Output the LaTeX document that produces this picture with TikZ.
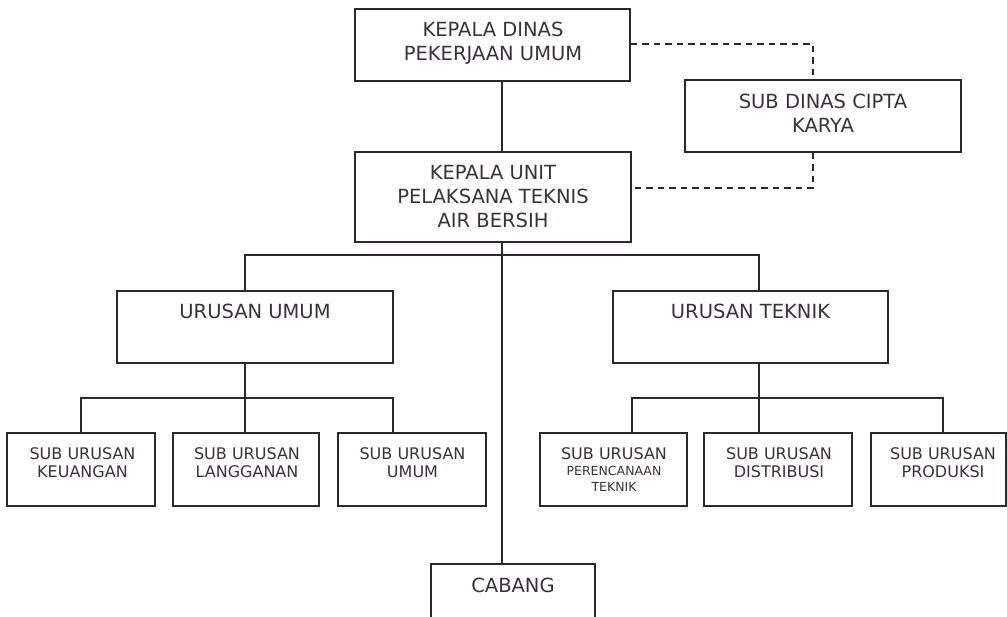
\documentclass[tikz,border=0pt]{standalone}
\usepackage{fontspec}
\setmainfont{DejaVu Sans}
\usetikzlibrary{calc}

\definecolor{ink}{RGB}{45,40,45}
\definecolor{txtc}{RGB}{58,50,58}
\newcommand\smallline{\fontsize{12.5}{16}\selectfont}

\tikzset{
  box/.style={draw=ink, line width=1.3pt, inner sep=0pt, fill=white},
  bigtxt/.style={text=txtc, font=\fontsize{19.5}{24}\selectfont, align=center, inner sep=0pt},
  subtxt/.style={text=txtc, font=\fontsize{16}{18.3}\selectfont, align=center, inner sep=0pt},
  link/.style={draw=ink, line width=1.3pt},
  dashlink/.style={draw=ink, line width=1.2pt, dash pattern=on 6.5pt off 5pt},
}

\begin{document}
\begin{tikzpicture}[x=1pt,y=-1pt]
\fill[white] (0,0) rectangle (1007,616);
\useasboundingbox (0,0) rectangle (1007,616);

% top levels
\node[box, minimum width=275pt, minimum height=72pt] (kd) at (492.5,45) {};
\node[bigtxt] (kdt) at (493,43) {KEPALA DINAS\\PEKERJAAN UMUM};

\node[box, minimum width=276pt, minimum height=72pt] (sd) at (823,116) {};
\node[bigtxt] (sdt) at (823,113) {SUB DINAS CIPTA\\KARYA};

\node[box, minimum width=276pt, minimum height=90pt] (ku) at (493,197) {};
\node[bigtxt] (kut) at (493,197) {KEPALA UNIT\\PELAKSANA TEKNIS\\AIR BERSIH};

% departments
\node[box, minimum width=276pt, minimum height=72pt] (uu) at (255,327) {};
\node[bigtxt] (uut) at (255,311) {URUSAN UMUM};

\node[box, minimum width=275pt, minimum height=72pt] (ut) at (750.5,327) {};
\node[bigtxt] (utt) at (750.5,311) {URUSAN TEKNIK};

% sections
\node[box, minimum width=148pt, minimum height=73pt] (keu) at (81,469.5) {};
\node[subtxt] (keut) at (82.5,463) {SUB URUSAN\\KEUANGAN};

\node[box, minimum width=146pt, minimum height=73pt] (lang) at (246,469.5) {};
\node[subtxt] (langt) at (247,463) {SUB URUSAN\\LANGGANAN};

\node[box, minimum width=148pt, minimum height=73pt] (umum) at (412,469.5) {};
\node[subtxt] (umumt) at (412.5,463) {SUB URUSAN\\UMUM};

\node[box, minimum width=147pt, minimum height=73pt] (per) at (613.5,469.5) {};
\node[subtxt] (pert) at (614,469.5) {SUB URUSAN\\[-2pt]\smallline PERENCANAAN\\[-2pt]\smallline TEKNIK};

\node[box, minimum width=148pt, minimum height=73pt] (dist) at (778,469.5) {};
\node[subtxt] (distt) at (779,463) {SUB URUSAN\\DISTRIBUSI};

\node[box, minimum width=135pt, minimum height=73pt] (prod) at (938.5,469.5) {};
\node[subtxt] (prodt) at (943,463) {SUB URUSAN\\PRODUKSI};

% branch
\node[box, minimum width=164pt, minimum height=76pt] (cab) at (513,602) {};
\node[bigtxt] (cabt) at (513,585) {CABANG};

% solid connectors
\coordinate (trunk) at (502,0);
\draw[link] (kd.south -| trunk) -- (ku.north -| trunk);
\draw[link] (ku.south -| trunk) -- (cab.north -| trunk);

\coordinate (busL) at (245,255);
\coordinate (busR) at (759,255);
\draw[link] (uu.north -| busL) -- (busL) -- (busR) -- (ut.north -| busR);

\coordinate (lb1) at (81,398);
\coordinate (lbus) at (245,398);
\coordinate (lb3) at (393,398);
\draw[link] (uu.south -| lbus) -- (lang.north -| lbus);
\draw[link] (keu.north -| lb1) -- (lb1) -- (lb3) -- (umum.north -| lb3);

\coordinate (rb1) at (632,398);
\coordinate (rbus) at (759,398);
\coordinate (rb3) at (943,398);
\draw[link] (ut.south -| rbus) -- (dist.north -| rbus);
\draw[link] (per.north -| rb1) -- (rb1) -- (rb3) -- (prod.north -| rb3);

% dashed coordination lines
\coordinate (dk) at (813,44);
\coordinate (du) at (813,188);
\draw[dashlink] (dk -| kd.east) -- (dk) -- (sd.north -| dk);
\draw[dashlink] (sd.south -| du) -- (du) -- (du -| ku.east);
\end{tikzpicture}
\end{document}
